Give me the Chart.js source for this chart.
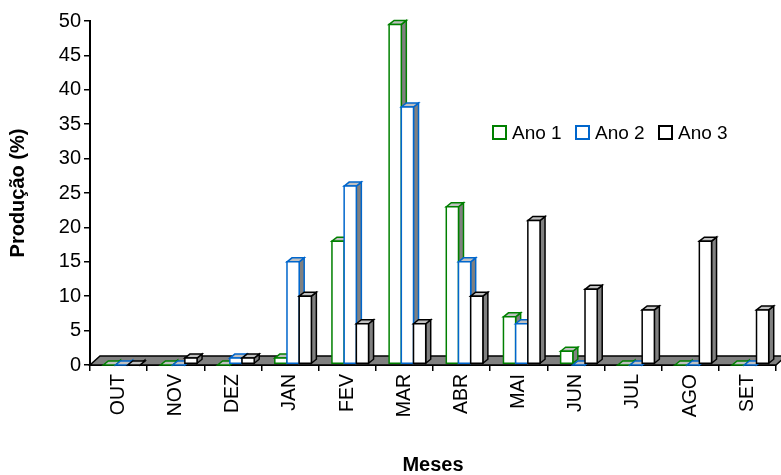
<!DOCTYPE html>
<html><head><meta charset="utf-8">
<script src="https://cdn.jsdelivr.net/npm/chart.js@4/dist/chart.umd.min.js"></script>
<style>html,body{margin:0;padding:0;background:#fff}#wrap{width:781px;height:475px;position:relative}</style>
</head><body><div id="wrap"><canvas id="c" width="781" height="475"></canvas></div>
<script>
const categories = ['OUT','NOV','DEZ','JAN','FEV','MAR','ABR','MAI','JUN','JUL','AGO','SET'];
const ano1 = [0, 0, 0, 1, 18, 49.5, 23, 7, 2, 0, 0, 0];
const ano2 = [0, 0, 1, 15, 26, 37.5, 15, 6, 0, 0, 0, 0];
const ano3 = [0, 1, 1, 10, 6, 6, 10, 21, 11, 8, 18, 8];
const seriesNames = ['Ano 1', 'Ano 2', 'Ano 3'];
const seriesColors = ['#008000', '#0066CC', '#000000'];
const yTicks = [0, 5, 10, 15, 20, 25, 30, 35, 40, 45, 50];

const FONT = '"Liberation Sans", Arial, sans-serif';
const DX = 5, DY = 4;     // bar depth
const FDX = 10, FDY = 9;  // floor depth
const SHIFT = 3;          // 3D projection shift of bars

const draw3d = {
  id: 'draw3d',
  beforeDatasetsDraw(chart) {
    const ctx = chart.ctx;
    const {left, right} = chart.chartArea;
    const y0 = chart.scales.y.getPixelForValue(0);
    ctx.save();
    ctx.beginPath();
    ctx.moveTo(left, y0);
    ctx.lineTo(right, y0);
    ctx.lineTo(right + FDX, y0 - FDY);
    ctx.lineTo(left + FDX, y0 - FDY);
    ctx.closePath();
    ctx.fillStyle = '#808080';
    ctx.fill();
    ctx.strokeStyle = '#000';
    ctx.lineWidth = 1.5;
    ctx.stroke();
    ctx.restore();
  },
  afterDatasetsDraw(chart) {
    const ctx = chart.ctx;
    ctx.save();
    chart.data.datasets.forEach((ds, i) => {
      const meta = chart.getDatasetMeta(i);
      const col = seriesColors[i];
      meta.data.forEach(el => {
        const p = el.getProps(['x', 'y', 'base', 'width'], true);
        const l = p.x - p.width / 2 + SHIFT, r = p.x + p.width / 2 + SHIFT;
        const top = Math.min(p.y, p.base), bot = Math.max(p.y, p.base) - 1;
        ctx.lineWidth = 1.5;
        ctx.strokeStyle = col;
        ctx.lineJoin = 'miter';
        // side
        ctx.beginPath();
        ctx.moveTo(r, top); ctx.lineTo(r + DX, top - DY);
        ctx.lineTo(r + DX, bot - DY); ctx.lineTo(r, bot);
        ctx.closePath();
        ctx.fillStyle = '#808080'; ctx.fill(); ctx.stroke();
        // top
        ctx.beginPath();
        ctx.moveTo(l, top); ctx.lineTo(l + DX, top - DY);
        ctx.lineTo(r + DX, top - DY); ctx.lineTo(r, top);
        ctx.closePath();
        ctx.fillStyle = '#c0c0c0'; ctx.fill(); ctx.stroke();
        // front
        if (bot - top > 0.5) {
          ctx.beginPath();
          ctx.rect(l, top, r - l, bot - top);
          ctx.fillStyle = '#ffffff'; ctx.fill(); ctx.stroke();
        }
      });
    });
    ctx.restore();
  }
};

const legendPlugin = {
  id: 'customLegend',
  afterDraw(chart) {
    const ctx = chart.ctx;
    const xs = [493, 576, 659];
    const yc = 133;
    ctx.save();
    ctx.font = '19px ' + FONT;
    ctx.textBaseline = 'middle';
    ctx.textAlign = 'left';
    seriesNames.forEach((n, i) => {
      ctx.fillStyle = '#fff';
      ctx.strokeStyle = seriesColors[i];
      ctx.lineWidth = 2;
      ctx.fillRect(xs[i], yc - 7, 13, 13);
      ctx.strokeRect(xs[i], yc - 7, 13, 13);
      ctx.fillStyle = '#000';
      ctx.fillText(n, xs[i] + 19, yc + 1);
    });
    ctx.restore();
  }
};

new Chart(document.getElementById('c'), {
  type: 'bar',
  data: {
    labels: categories,
    datasets: [ano1, ano2, ano3].map((d, i) => ({
      label: seriesNames[i],
      data: d,
      backgroundColor: 'rgba(0,0,0,0)',
      borderWidth: 0,
      barPercentage: 1.0,
      categoryPercentage: 0.64
    }))
  },
  options: {
    responsive: false,
    animation: false,
    events: [],
    layout: { padding: { left: 0, right: 5, top: 21, bottom: 0 } },
    plugins: { legend: { display: false }, tooltip: { enabled: false } },
    scales: {
      x: {
        afterFit(s) { s.height = 110; },
        grid: { drawOnChartArea: false, tickLength: 6, color: '#000', lineWidth: 1.5, offset: true },
        border: { color: '#000', width: 2 },
        ticks: { color: '#000', font: { family: FONT, size: 19.5 }, maxRotation: 90, minRotation: 90, padding: 3, autoSkip: false },
        title: { display: true, text: 'Meses', color: '#000', font: { family: FONT, size: 20, weight: 'bold', lineHeight: 1 }, padding: { top: 0, bottom: 0 } }
      },
      y: {
        min: 0, max: 50,
        afterFit(s) { s.width = 90; },
        afterBuildTicks(s) { s.ticks = yTicks.map(v => ({ value: v })); },
        grid: { drawOnChartArea: false, tickLength: 6, color: '#000', lineWidth: 1.5 },
        border: { color: '#000', width: 2 },
        ticks: { color: '#000', font: { family: FONT, size: 20 }, padding: 3 },
        title: { display: true, text: 'Produção (%)', color: '#000', font: { family: FONT, size: 20, weight: 'bold', lineHeight: 1.2 }, padding: { top: 6, bottom: 0 } }
      }
    }
  },
  plugins: [draw3d, legendPlugin]
});
</script></body></html>
